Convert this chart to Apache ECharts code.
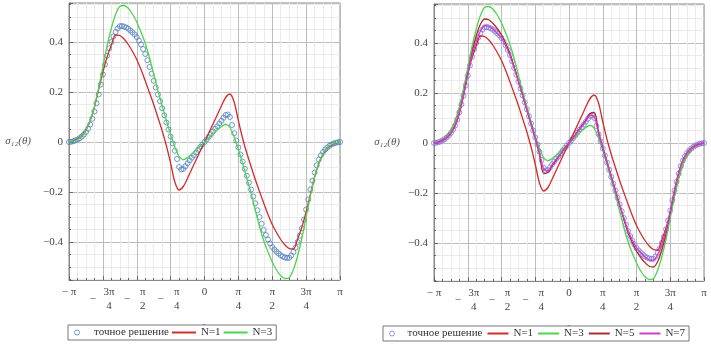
<!DOCTYPE html>
<html>
<head>
<meta charset="utf-8">
<script src="https://cdn.jsdelivr.net/npm/echarts@6/dist/echarts.min.js"></script>
<style>
html, body { margin: 0; padding: 0; background: #fff; }
#chart { width: 711px; height: 347px; }
</style>
</head>
<body>
<div id="chart"></div>
<script>
// sample grids: theta from -pi to pi, pi/32 for the curves, pi/64 for the exact points
const theta = []
for (let k = 0; k <= 64; k++) theta.push(-Math.PI + k * Math.PI / 32)
const thetaFine = []
for (let k = 0; k <= 128; k++) thetaFine.push(-Math.PI + k * Math.PI / 64)

// values
const exact = [
  0, 0.001, 0.003, 0.006, 0.010, 0.015, 0.022, 0.030, 0.040, 0.053,
  0.070, 0.093, 0.122, 0.155, 0.190, 0.230, 0.270, 0.310, 0.345, 0.375,
  0.400, 0.422, 0.440, 0.454, 0.463, 0.464, 0.462, 0.458, 0.453, 0.446,
  0.438, 0.430, 0.420, 0.406, 0.390, 0.372, 0.352, 0.327, 0.300, 0.273,
  0.245, 0.218, 0.190, 0.163, 0.135, 0.107, 0.078, 0.050, 0.022, -0.006,
  -0.035, -0.068, -0.100, -0.110, -0.108, -0.097, -0.085, -0.074, -0.063, -0.053,
  -0.042, -0.031, -0.020, -0.010,
  0,
  0.010, 0.020, 0.031, 0.042, 0.053, 0.063, 0.074, 0.085, 0.097, 0.108,
  0.110, 0.100, 0.068, 0.035, 0.006, -0.022, -0.050, -0.078, -0.107, -0.135,
  -0.163, -0.190, -0.218, -0.245, -0.273, -0.300, -0.327, -0.352, -0.372, -0.390,
  -0.406, -0.420, -0.430, -0.438, -0.446, -0.453, -0.458, -0.462, -0.464, -0.463,
  -0.454, -0.440, -0.422, -0.400, -0.375, -0.345, -0.310, -0.270, -0.230, -0.190,
  -0.155, -0.122, -0.093, -0.070, -0.053, -0.040, -0.030, -0.022, -0.015, -0.010,
  -0.006, -0.003, -0.001, 0
]
const n1 = [
  0, 0.004, 0.012, 0.026, 0.048, 0.085, 0.140, 0.210, 0.280, 0.340, 0.388, 0.428, 0.426, 0.412, 0.390, 0.362,
  0.330, 0.290, 0.245, 0.198, 0.150, 0.098, 0.045, -0.015, -0.085, -0.160, -0.192, -0.178, -0.145, -0.108, -0.072, -0.036,
  0,
  0.036, 0.072, 0.108, 0.145, 0.178, 0.192, 0.160, 0.085, 0.015, -0.045, -0.098, -0.150, -0.198, -0.245, -0.290, -0.330,
  -0.362, -0.390, -0.412, -0.426, -0.428, -0.388, -0.340, -0.280, -0.210, -0.140, -0.085, -0.048, -0.026, -0.012, -0.004, 0
]
const n3 = [
  0, 0.003, 0.010, 0.024, 0.047, 0.085, 0.140, 0.215, 0.300, 0.385, 0.455, 0.510, 0.543, 0.546, 0.535, 0.512,
  0.480, 0.440, 0.395, 0.338, 0.272, 0.205, 0.145, 0.085, 0.030, -0.020, -0.058, -0.071, -0.062, -0.048, -0.032, -0.016,
  0,
  0.016, 0.032, 0.048, 0.062, 0.071, 0.058, 0.020, -0.030, -0.085, -0.145, -0.205, -0.272, -0.338, -0.395, -0.440, -0.480,
  -0.512, -0.535, -0.546, -0.543, -0.510, -0.455, -0.385, -0.300, -0.215, -0.140, -0.085, -0.047, -0.024, -0.010, -0.003, 0
]
const n5 = [
  0, 0.003, 0.009, 0.020, 0.038, 0.068, 0.118, 0.190, 0.275, 0.360, 0.428, 0.475, 0.496, 0.493, 0.478, 0.458,
  0.432, 0.398, 0.358, 0.305, 0.248, 0.190, 0.132, 0.075, 0.018, -0.045, -0.122, -0.118, -0.092, -0.068, -0.045, -0.022,
  0,
  0.022, 0.045, 0.068, 0.092, 0.118, 0.122, 0.045, -0.018, -0.075, -0.132, -0.190, -0.248, -0.305, -0.358, -0.398, -0.432,
  -0.458, -0.478, -0.493, -0.496, -0.475, -0.428, -0.360, -0.275, -0.190, -0.118, -0.068, -0.038, -0.020, -0.009, -0.003, 0
]
const n7 = [
  0, 0.002, 0.009, 0.021, 0.039, 0.069, 0.121, 0.190, 0.272, 0.349, 0.406, 0.447, 0.469, 0.467, 0.455, 0.438,
  0.418, 0.388, 0.350, 0.299, 0.245, 0.190, 0.134, 0.077, 0.020, -0.038, -0.104, -0.111, -0.087, -0.065, -0.043, -0.021,
  0,
  0.021, 0.043, 0.065, 0.087, 0.111, 0.104, 0.038, -0.020, -0.077, -0.134, -0.190, -0.245, -0.299, -0.350, -0.388, -0.418,
  -0.438, -0.455, -0.467, -0.469, -0.447, -0.406, -0.349, -0.272, -0.190, -0.121, -0.069, -0.039, -0.021, -0.009, -0.002, 0
]

// x tick labels at multiples of pi/4
const xTickSign = ['−', '−', '−', '−', '', '', '', '', '']
const xTickNum = ['π', '3π', 'π', 'π', '0', 'π', 'π', '3π', 'π']
const xTickDen = ['', '4', '2', '4', '', '4', '2', '4', '']

const serif = 'Liberation Serif'
const textGrey = '#444'

function pairs(xs, ys) {
  return xs.map((t, i) => [t, ys[i]])
}

function xLabel(v) {
  const i = Math.round(v / (Math.PI / 4)) + 4
  const den = xTickDen[i]
  if (!den) return '{n|' + (xTickSign[i] ? xTickSign[i] + ' ' : '') + xTickNum[i] + '}'
  if (xTickSign[i]) return '{h|−}{f|' + xTickNum[i] + '}\n{m|−}{f|' + den + '}'
  return '{f|' + xTickNum[i] + '}\n{f|' + den + '}'
}

function yLabel(v) {
  if (v === 0) return '0'
  return v < 0 ? '−' + Math.abs(v) : String(v)
}

const xRich = {
  n: { fontFamily: serif, fontSize: 11, lineHeight: 14, color: textGrey },
  f: { fontFamily: serif, fontSize: 11, lineHeight: 14, width: 14, align: 'center', color: textGrey },
  h: { fontFamily: serif, fontSize: 11, lineHeight: 14, padding: [0, 6, 0, 0], color: 'rgba(0,0,0,0)' },
  m: { fontFamily: serif, fontSize: 11, lineHeight: 14, padding: [0, 6, 14, 0], verticalAlign: 'middle', color: textGrey }
}

function xAxisFor(gridIndex) {
  return {
    type: 'value',
    gridIndex: gridIndex,
    min: -Math.PI,
    max: Math.PI,
    interval: Math.PI / 4,
    name: 'θ',
    nameLocation: 'middle',
    nameGap: 34,
    nameTextStyle: { fontFamily: serif, fontSize: 10, color: '#666' },
    axisLine: { show: true, onZero: false, lineStyle: { color: '#888' } },
    axisTick: { show: true, inside: true, length: 4, lineStyle: { color: '#666' } },
    minorTick: { show: true, splitNumber: 4, length: 2, lineStyle: { color: '#666' } },
    splitLine: { show: true, lineStyle: { color: '#bcbcbc', width: 1 } },
    minorSplitLine: { show: true, lineStyle: { color: '#ebebeb', width: 1 } },
    axisLabel: { margin: 5, formatter: xLabel, rich: xRich, showMinLabel: true, showMaxLabel: true }
  }
}

function yAxisFor(gridIndex, gap) {
  return {
    type: 'value',
    gridIndex: gridIndex,
    min: -0.552,
    max: 0.556,
    splitNumber: 5,
    name: 'σ₁₂(θ)',
    nameLocation: 'middle',
    nameRotate: 0,
    nameGap: gap,
    nameTextStyle: { fontFamily: serif, fontSize: 11, fontStyle: 'italic', color: '#555' },
    axisLine: { show: true, onZero: false, lineStyle: { color: '#888' } },
    axisTick: { show: true, inside: true, length: 4, lineStyle: { color: '#666' } },
    minorTick: { show: true, splitNumber: 4, length: 2, lineStyle: { color: '#666' } },
    splitLine: { show: true, lineStyle: { color: '#bcbcbc', width: 1 } },
    minorSplitLine: { show: true, lineStyle: { color: '#ebebeb', width: 1 } },
    axisLabel: {
      margin: 6, formatter: yLabel, showMinLabel: false, showMaxLabel: false,
      fontFamily: serif, fontSize: 11, color: textGrey
    }
  }
}

const blue = '#4f80bf'
const violet = '#7f76d8'
const red = '#d42b2b'
const green = '#4fd44f'
const darkRed = '#a8302c'
const magenta = '#cc3fcc'

function circles(name, color, idx) {
  return {
    type: 'scatter', name: name, xAxisIndex: idx, yAxisIndex: idx,
    data: pairs(thetaFine, exact), symbol: 'circle', symbolSize: 5,
    itemStyle: { color: 'rgba(0,0,0,0)', borderColor: color, borderWidth: 1 },
    z: 2
  }
}

function curve(name, ys, color, idx) {
  return {
    type: 'line', name: name, xAxisIndex: idx, yAxisIndex: idx,
    data: pairs(theta, ys), symbol: 'none', smooth: 0.3,
    lineStyle: { color: color, width: 1.3 }, itemStyle: { color: color },
    z: 3
  }
}

// legend entries for curves: line only, no marker dot
function lineEntry(name) {
  return { name: name, itemStyle: { opacity: 0 } }
}

const legendBase = {
  orient: 'horizontal',
  borderColor: '#777',
  borderWidth: 1,
  backgroundColor: '#fff',
  itemGap: 2,
  itemHeight: 5,
  textStyle: { fontFamily: serif, fontSize: 11, color: '#333' }
}

const chart = echarts.init(document.getElementById('chart'))
chart.setOption({
  animation: false,
  backgroundColor: '#fff',
  textStyle: { fontFamily: serif },
  grid: [
    { left: 69, top: 3, width: 271, height: 277, show: true, borderColor: '#888', backgroundColor: '#fff' },
    { left: 434, top: 4, width: 270, height: 277, show: true, borderColor: '#888', backgroundColor: '#fff' }
  ],
  xAxis: [xAxisFor(0), xAxisFor(1)],
  yAxis: [yAxisFor(0, 38), yAxisFor(1, 34)],
  legend: [
    Object.assign({}, legendBase, {
      left: 68, top: 325, itemWidth: 24, padding: [2, 4, 2, 6],
      data: [
        { name: 'точное решение', itemStyle: { color: 'rgba(0,0,0,0)', borderColor: blue, borderWidth: 1 } },
        lineEntry('N=1'), lineEntry('N=3')
      ]
    }),
    Object.assign({}, legendBase, {
      left: 383, top: 326, itemWidth: 21, padding: [2, 4, 2, 6], itemGap: 4,
      data: [
        { name: 'точное решение', itemStyle: { color: 'rgba(0,0,0,0)', borderColor: violet, borderWidth: 1 } },
        lineEntry('N=1'), lineEntry('N=3'), lineEntry('N=5'), lineEntry('N=7')
      ]
    })
  ],
  series: [
    circles('точное решение', blue, 0),
    curve('N=1', n1, red, 0),
    curve('N=3', n3, green, 0),
    circles('точное решение', violet, 1),
    curve('N=1', n1, red, 1),
    curve('N=3', n3, green, 1),
    curve('N=5', n5, darkRed, 1),
    curve('N=7', n7, magenta, 1)
  ]
})
</script>
</body>
</html>
